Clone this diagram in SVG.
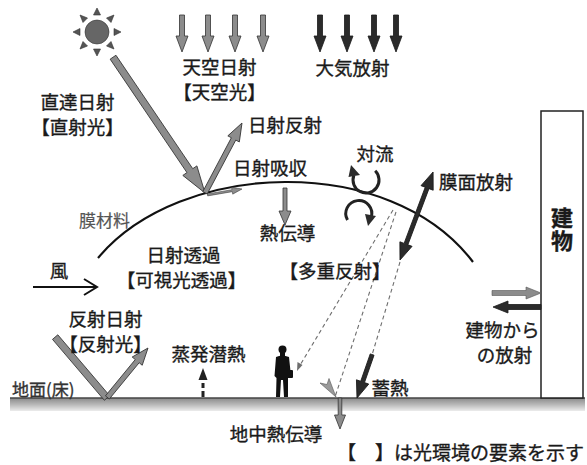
<svg xmlns="http://www.w3.org/2000/svg" width="587" height="465" viewBox="0 0 587 465">
  <style>
    .t { font-family: "Noto Sans CJK JP", "Noto Sans", sans-serif; font-size: 18.5px; fill: #1a1a1a; stroke: #1a1a1a; stroke-width: 0.35; text-anchor: middle; }
    .gray { fill: #8c8c8c; stroke: #333; stroke-width: 0.8; }
    .dark { fill: #2b2b2b; stroke: #1a1a1a; stroke-width: 0.8; }
    .dash { fill: none; stroke: #6e6e6e; stroke-width: 1.1; stroke-dasharray: 4 3; }
  </style>
  <defs>
    <polygon id="vArrow" points="-37,-2.5 -16,-2.5 -16,-6 0,0 -16,6 -16,2.5 -37,2.5"/>
    <linearGradient id="groundFill" x1="0" y1="0" x2="0" y2="1">
      <stop offset="0" stop-color="#8a8a8a"/>
      <stop offset="0.5" stop-color="#b8b8b8"/>
      <stop offset="1" stop-color="#ececec"/>
    </linearGradient>
  </defs>

  <rect width="587" height="465" fill="#fff"/>

  <!-- ground -->
  <g id="ground">
    <rect x="10" y="398" width="575" height="13" fill="url(#groundFill)"/>
    <line x1="10" y1="398" x2="585" y2="398" stroke="#444" stroke-width="1.3"/>
    <text class="t" x="12" y="396" style="text-anchor:start;font-size:17px;fill:#333;stroke:#333">地面(床)</text>
  </g>

  <!-- building -->
  <g id="building">
    <rect x="541" y="111" width="42" height="287" fill="#fff" stroke="#222" stroke-width="1.5"/>
    <text class="t" x="562" y="229.5" writing-mode="vertical-rl" letter-spacing="1" style="font-size:22px;font-weight:bold">建物</text>
  </g>

  <!-- sun -->
  <g id="sun" fill="#555" stroke="#333" stroke-width="0.6">
    <circle cx="97" cy="32" r="12" fill="#666"/>
    <g id="rays">
      <polygon points="97,8 93.5,15 100.5,15"/>
      <polygon points="97,56 93.5,49 100.5,49"/>
      <polygon points="73,32 80,28.5 80,35.5"/>
      <polygon points="121,32 114,28.5 114,35.5"/>
      <polygon points="80,15 83,22.5 87.5,18"/>
      <polygon points="114,15 106.5,18 111,22.5"/>
      <polygon points="80,49 87.5,46 83,41.5"/>
      <polygon points="114,49 111,41.5 106.5,46"/>
    </g>
  </g>

  <!-- membrane -->
  <g id="membrane">
    <path d="M98,258 C180,160 390,152 473,262" fill="none" stroke="#111" stroke-width="2.2"/>
    <text class="t" x="104.5" y="227" style="font-size:17px;fill:#555;stroke:#555;stroke-width:0.2">膜材料</text>
  </g>

  <!-- connectors -->
  <g id="connectors">
    <!-- sky radiation -->
    <use href="#vArrow" class="gray" transform="translate(182,52) rotate(90)"/>
    <use href="#vArrow" class="gray" transform="translate(208,52) rotate(90)"/>
    <use href="#vArrow" class="gray" transform="translate(235,52) rotate(90)"/>
    <use href="#vArrow" class="gray" transform="translate(263,52) rotate(90)"/>
    <!-- atmospheric radiation -->
    <use href="#vArrow" class="dark" transform="translate(320,52) rotate(90)"/>
    <use href="#vArrow" class="dark" transform="translate(347,52) rotate(90)"/>
    <use href="#vArrow" class="dark" transform="translate(374,52) rotate(90)"/>
    <use href="#vArrow" class="dark" transform="translate(396,52) rotate(90)"/>

    <!-- direct sun -->
    <polygon class="gray" points="-164,-3.5 -27,-3.5 -27,-8.5 0,0 -27,8.5 -27,3.5 -164,3.5" transform="translate(205,193) rotate(55.9)"/>
    <!-- solar reflection -->
    <polygon class="gray" points="-79,-2.5 -18,-2.5 -18,-6.5 0,0 -18,6.5 -18,2.5 -79,2.5" transform="translate(242,123) rotate(-62.1)"/>
    <!-- along membrane -->
    <polygon class="gray" points="-35,-1 -10,-1 -10,-3.5 0,0 -10,3.5 -10,1 -35,1" transform="translate(242,189) rotate(-9.7)" style="stroke-width:0.5"/>
    <!-- heat conduction through membrane -->
    <polygon class="gray" points="-37,-2 -14,-2 -14,-6 0,0 -14,6 -14,2 -37,2" transform="translate(285,225) rotate(90)"/>

    <!-- convection -->
    <g id="convection" fill="#2b2b2b">
      <path d="M375.2,170.8 A13,13 0 1 1 353.8,175.6" fill="none" stroke="#222" stroke-width="3"/>
      <polygon points="351,165 360,175 348.5,177"/>
      <path d="M347.5,220 A13,13 0 1 1 371.2,217.4" fill="none" stroke="#222" stroke-width="3"/>
      <polygon points="368,226 376,216 365,214"/>
    </g>

    <!-- membrane surface radiation -->
    <polygon class="dark" points="0,0 17,-6.5 17,-2 77,-2 77,-6.5 94,0 77,6.5 77,2 17,2 17,6.5" transform="translate(400,260) rotate(-69.4)"/>

    <!-- multiple reflection -->
    <line class="dash" x1="393" y1="210" x2="299" y2="367"/>
    <polygon points="297,371 297.5,362 302.5,365" fill="#6e6e6e"/>
    <line class="dash" x1="396" y1="212" x2="335" y2="397"/>
    <line class="dash" x1="400" y1="262" x2="372" y2="355"/>
    <polygon fill="#9a9a9a" stroke="#555" stroke-width="0.6" points="336,397 320,383 327,384.5 329,378.5"/>

    <!-- heat storage -->
    <polygon class="dark" points="-46,-2 -17,-2 -17,-6.5 0,0 -17,6.5 -17,2 -46,2" transform="translate(357,398) rotate(109.2)"/>
    <!-- ground conduction -->
    <polygon class="gray" points="-31,-1.8 -14,-1.8 -14,-5.5 0,0 -14,5.5 -14,1.8 -31,1.8" transform="translate(340,429) rotate(90)"/>

    <!-- ground reflection -->
    <polygon class="gray" points="-80,-3.5 0,-3.5 0,3.5 -80,3.5" transform="translate(107,398) rotate(49.6)"/>
    <polygon class="gray" points="-64,-2.5 -17,-2.5 -17,-6.5 0,0 -17,6.5 -17,2.5 -64,2.5" transform="translate(148,348) rotate(-50.6)"/>

    <!-- wind -->
    <g fill="none" stroke="#111" stroke-width="2">
      <line x1="33" y1="287" x2="96" y2="287"/>
      <polyline points="84,279 97,287 84,295"/>
    </g>

    <!-- evaporation -->
    <g fill="#222">
      <polygon points="203,368 198.5,380 207.5,380"/>
      <rect x="201.5" y="383" width="3" height="5"/>
      <rect x="201.5" y="391" width="3" height="6"/>
    </g>

    <!-- building radiation -->
    <polygon fill="#8c8c8c" stroke="#555" stroke-width="0.6" points="-49,-2.5 -15,-2.5 -15,-6 0,0 -15,6 -15,2.5 -49,2.5" transform="translate(541,293)"/>
    <polygon class="dark" points="-48,-2.5 -15,-2.5 -15,-6 0,0 -15,6 -15,2.5 -48,2.5" transform="translate(493,307) rotate(180)"/>
  </g>

  <!-- person -->
  <g id="person" fill="#111">
    <circle cx="282.5" cy="349.5" r="4"/>
    <rect x="280" y="352" width="5" height="4"/>
    <path d="M276,357 Q282,354 289,357 L291,376 L288,378 L288,397 L284,397 L283,380 L281,380 L280,397 L276,397 L276.5,378 L274.5,376 Z"/>
    <rect x="287" y="370" width="6" height="8" rx="1"/>
  </g>

  <!-- labels -->
  <g id="labels">
    <text class="t" x="219.5" y="73.5">天空日射<tspan x="219.5" dy="25">【天空光】</tspan></text>
    <text class="t" x="352.5" y="75">大気放射</text>
    <text class="t" x="77.5" y="108.5">直達日射<tspan x="77.5" dy="25">【直射光】</tspan></text>
    <text class="t" x="285" y="132">日射反射</text>
    <text class="t" x="270" y="175">日射吸収</text>
    <text class="t" x="375" y="161">対流</text>
    <text class="t" x="476" y="189">膜面放射</text>
    <text class="t" x="287.5" y="240">熱伝導</text>
    <text class="t" x="183.5" y="262">日射透過<tspan x="181.5" dy="25">【可視光透過】</tspan></text>
    <text class="t" x="59" y="278">風</text>
    <text class="t" x="335" y="278">【多重反射】</text>
    <text class="t" x="502.5" y="337">建物から<tspan x="504.5" dy="25">の放射</tspan></text>
    <text class="t" x="105.5" y="326">反射日射<tspan x="105.5" dy="25">【反射光】</tspan></text>
    <text class="t" x="208.5" y="361">蒸発潜熱</text>
    <text class="t" x="390" y="395">蓄熱</text>
    <text class="t" x="276" y="441">地中熱伝導</text>
    <text class="t" x="584" y="460" style="text-anchor:end;font-size:19px">【　】は光環境の要素を示す</text>
  </g>
</svg>
